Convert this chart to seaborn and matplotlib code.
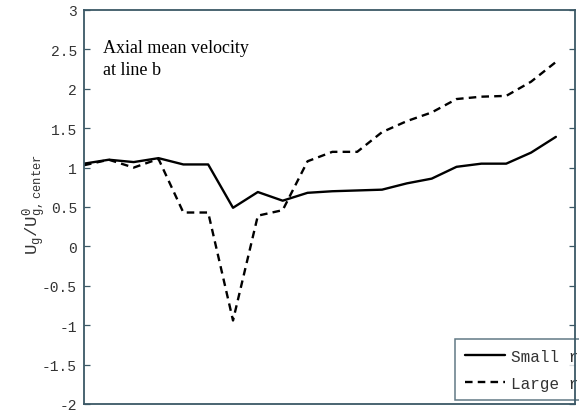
import matplotlib
matplotlib.use("Agg")
import matplotlib.pyplot as plt
import seaborn as sns
import pandas as pd
from matplotlib.lines import Line2D

# Measurement stations along line b
station = list(range(20))

# Normalised axial gas velocity, small-radius case
small_r = [1.05, 1.10, 1.07, 1.12, 1.04, 1.04, 0.49, 0.69, 0.58, 0.68,
           0.70, 0.71, 0.72, 0.80, 0.86, 1.01, 1.05, 1.05, 1.19, 1.39]

# Normalised axial gas velocity, large-radius case
large_r = [1.03, 1.10, 1.00, 1.11, 0.43, 0.43, -0.94, 0.39, 0.46, 1.08,
           1.20, 1.20, 1.45, 1.59, 1.70, 1.87, 1.90, 1.91, 2.09, 2.34]

series_names = ["Small radius", "Large radius"]
yticks = [-2, -1.5, -1, -0.5, 0, 0.5, 1, 1.5, 2, 2.5, 3]

df = pd.DataFrame({
    "station": station * 2,
    "velocity": small_r + large_r,
    "case": [series_names[0]] * len(station) + [series_names[1]] * len(station),
})

sns.set_theme(style="white")
plt.rcParams["font.family"] = ["Liberation Mono", "DejaVu Sans Mono"]
plt.rcParams["mathtext.fontset"] = "custom"
plt.rcParams["mathtext.tt"] = "Liberation Mono"
plt.rcParams["mathtext.rm"] = "Liberation Mono"

W, H = 579, 414
spine_col = "#3b5866"
text_col = "#333333"

fig = plt.figure(figsize=(W / 100, H / 100), dpi=100)
ax = fig.add_axes([84 / W, 1 - 405 / H, (575 - 84) / W, (405 - 11) / H])

dash_styles = {series_names[0]: "", series_names[1]: (3.2, 2.2)}
sns.lineplot(data=df, x="station", y="velocity", hue="case", style="case",
             palette=["black", "black"], dashes=dash_styles, linewidth=1.7,
             legend=False, ax=ax)

ax.set_xlim(0, 19.77)
ax.set_ylim(-2, 3)
ax.set_yticks(yticks)
ax.set_yticklabels([f"{t:g}" for t in yticks], fontsize=10.5, color=text_col)
ax.set_xticks([])
ax.set_xlabel("")
ax.set_ylabel(r"$\mathtt{U_g/U^0_{g,center}}$", fontsize=12.5, color=text_col)
ax.yaxis.set_label_coords(-0.07, 0.51)

ax.tick_params(axis="y", which="both", direction="in", length=4, width=0.9,
               left=True, right=True, color=spine_col, pad=5)
for sp in ax.spines.values():
    sp.set_color(spine_col)
    sp.set_linewidth(1.3)
    sp.set_zorder(6)

# Annotation in the upper-left corner of the panel
fig.text(103 / W, 1 - 75 / H, "Axial mean velocity\nat line b",
         fontsize=13, family="Liberation Serif", color="black",
         va="baseline", ha="left", linespacing=1.35)

handles = [Line2D([], [], color="black", lw=1.7, linestyle="-"),
           Line2D([], [], color="black", lw=1.7, dashes=(3.2, 2.2))]
leg = ax.legend(handles, series_names, loc="upper left",
                bbox_to_anchor=((455 - 84) / 491, (405 - 340) / 394),
                borderaxespad=0, frameon=True, fancybox=False,
                handlelength=2.5, handletextpad=0.38, labelspacing=0.75,
                borderpad=0.6, fontsize=11.5)
leg.get_frame().set_edgecolor(spine_col)
leg.get_frame().set_linewidth(1.1)
for t in leg.get_texts():
    t.set_color(text_col)
leg.set_zorder(5)

fig.savefig("out.png", dpi=100)
